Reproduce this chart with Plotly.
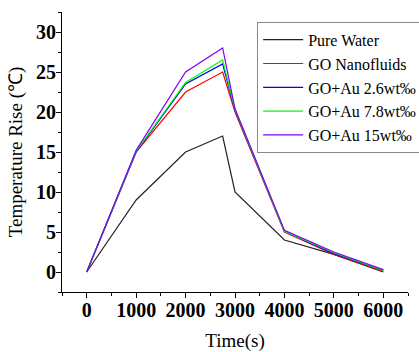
import plotly.graph_objects as go

time_s = [0, 1000, 2000, 2750, 3000, 4000, 5000, 6000]
pure_water = [0, 9.0, 15.0, 17.0, 10.0, 4.0, 2.2, 0.0]
go_nano = [0, 15.0, 22.5, 25.0, 20.0, 5.0, 2.2, 0.1]
go_au_26 = [0, 15.0, 23.5, 26.0, 20.2, 5.1, 2.3, 0.2]
go_au_78 = [0, 15.1, 23.7, 26.5, 20.3, 5.1, 2.4, 0.2]
go_au_15 = [0, 15.2, 25.0, 28.0, 20.4, 5.2, 2.5, 0.3]

names = ["Pure Water", "GO Nanofluids", "GO+Au 2.6wt‰", "GO+Au 7.8wt‰", "GO+Au 15wt‰"]
series = [pure_water, go_nano, go_au_26, go_au_78, go_au_15]
colors = ["#222222", "#ff0000", "#0000ff", "#00ff00", "#8000ff"]

fig = go.Figure()
for n, s, c in zip(names, series, colors):
    fig.add_trace(go.Scatter(x=time_s, y=s, name=n, mode="lines",
                             line=dict(color=c, width=1.2)))

serif = "Liberation Serif"
axis_common = dict(showline=True, linecolor="black", linewidth=1, ticks="outside",
                   ticklen=5, tickwidth=1, tickcolor="black", showgrid=False, zeroline=False,
                   tickfont=dict(family=serif, size=20, color="black", weight="bold"),
                   mirror=False, automargin=False)
fig.update_layout(
    width=419, height=352,
    margin=dict(l=62, r=11, t=12, b=60, autoexpand=False),
    paper_bgcolor="white", plot_bgcolor="white",
    font=dict(family=serif, color="black"),
    xaxis=dict(range=[-500, 6500], tickvals=[0, 1000, 2000, 3000, 4000, 5000, 6000],
               minor=dict(dtick=500, tick0=0, ticks="outside", ticklen=3, tickcolor="black"),
               title=dict(text="Time(s)", font=dict(family=serif, size=19), standoff=14),
               ticklabelstandoff=-5,
               **axis_common),
    yaxis=dict(range=[-2.5, 32.5], tickvals=[0, 5, 10, 15, 20, 25, 30],
               minor=dict(dtick=2.5, tick0=0, ticks="outside", ticklen=3, tickcolor="black"),
               title=dict(text="Temperature Rise (℃)", font=dict(family=serif, size=19), standoff=8),
               ticklabelstandoff=-4,
               **axis_common),
    legend=dict(x=0.564, y=0.965, xanchor="left", yanchor="top",
                bordercolor="#888888", borderwidth=1, bgcolor="white",
                font=dict(family=serif, size=16, color="black"),
                tracegroupgap=0, itemwidth=40),
    showlegend=True,
)
fig.write_html("out.html")
